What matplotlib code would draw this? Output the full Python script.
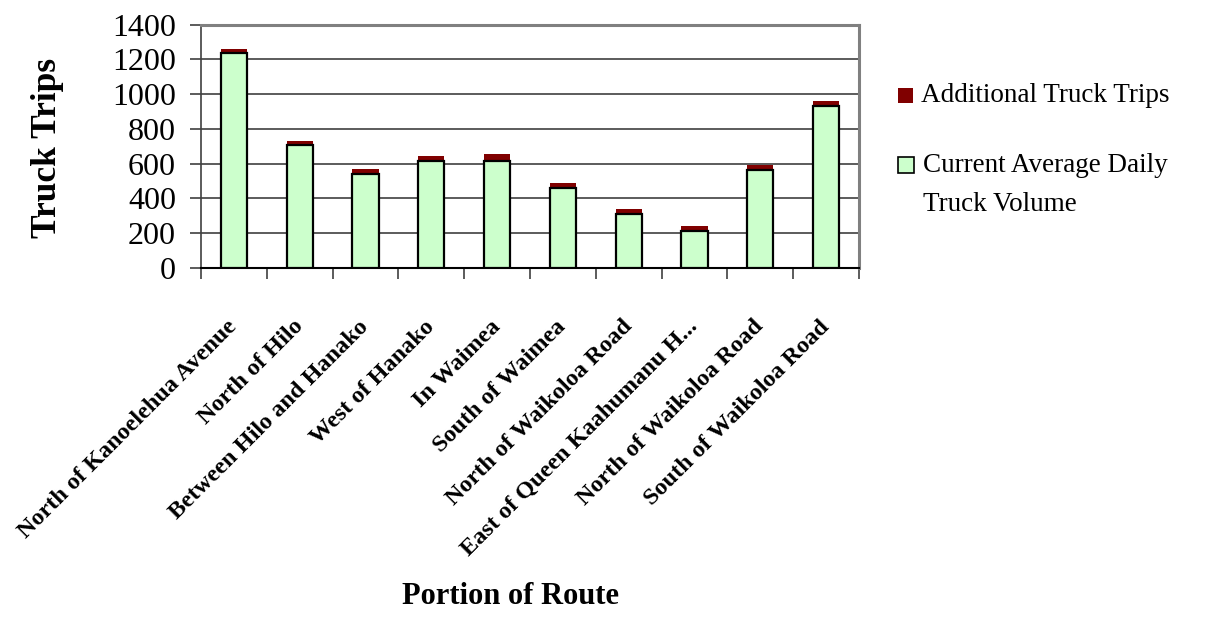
import matplotlib
matplotlib.use("Agg")
import matplotlib.pyplot as plt
from matplotlib.patches import Rectangle
import numpy as np

plt.rcParams['font.family'] = ['Liberation Serif', 'DejaVu Serif']

segments = [
    "North of Kanoelehua Avenue",
    "North of Hilo",
    "Between Hilo and Hanako",
    "West of Hanako",
    "In Waimea",
    "South of Waimea",
    "North of Waikoloa Road",
    "East of Queen Kaahumanu H...",
    "North of Waikoloa Road",
    "South of Waikoloa Road",
]
current_volume = [1235, 705, 542, 615, 615, 461, 312, 211, 565, 931]
additional_trips = [24, 25, 27, 28, 40, 27, 27, 30, 27, 28]
y_ticks = [0, 200, 400, 600, 800, 1000, 1200, 1400]

green = "#CCFFCC"
maroon = "#800000"

W, H = 1206, 624
fig = plt.figure(figsize=(W / 100, H / 100), dpi=100)
ax = fig.add_axes([201 / W, 1 - 268 / H, (859 - 201) / W, (268 - 24.5) / H])

x = np.arange(len(segments))
ax.bar(x, current_volume, width=0.40, color=green, edgecolor="black",
       linewidth=1.6, zorder=3)
ax.bar(x, additional_trips, width=0.40, bottom=current_volume, color=maroon,
       edgecolor="none", linewidth=0, zorder=2)

ax.set_xlim(-0.5, len(segments) - 0.5)
ax.set_ylim(0, 1400)
ax.set_yticks(y_ticks)
ax.set_yticklabels([str(v) for v in y_ticks], fontsize=23)
ax.yaxis.grid(True, color="#404040", linewidth=1.2, zorder=0)
ax.set_axisbelow(True)

# category boundaries carry the ticks, labels sit at the centres
ax.set_xticks(x)
ax.set_xticklabels(segments, rotation=45, ha="right", va="center",
                   rotation_mode="anchor", fontsize=17.5, fontweight="bold")
ax.set_xticks(np.arange(-0.5, len(segments), 1.0), minor=True)
ax.tick_params(axis="x", which="major", length=0, pad=40)
ax.tick_params(axis="x", which="minor", length=8, width=1.2, color="#404040",
               direction="out")
ax.tick_params(axis="y", length=8, width=1.2, color="#404040", pad=10)

for side in ("top", "right"):
    ax.spines[side].set_color("#808080")
    ax.spines[side].set_linewidth(2.2)
ax.spines["left"].set_color("#404040")
ax.spines["left"].set_linewidth(1.2)
ax.spines["bottom"].set_color("black")
ax.spines["bottom"].set_linewidth(1.5)

fig.text(47 / W, 1 - 148 / H, "Truck Trips", rotation=90, ha="center",
         va="center", fontsize=25.5, fontweight="bold")
fig.text(511 / W, 1 - 596 / H, "Portion of Route", ha="center",
         va="center", fontsize=22, fontweight="bold")

# legend
fig.patches.append(Rectangle((898 / W, 1 - 103 / H), 15 / W, 15 / H,
                             transform=fig.transFigure, facecolor=maroon,
                             edgecolor="none"))
fig.text(921 / W, 1 - 96 / H, "Additional Truck Trips", ha="left",
         va="center", fontsize=19.5)
fig.patches.append(Rectangle((898 / W, 1 - 173 / H), 16 / W, 16 / H,
                             transform=fig.transFigure, facecolor=green,
                             edgecolor="black", linewidth=1.2))
fig.text(923 / W, 1 - 166 / H, "Current Average Daily", ha="left",
         va="center", fontsize=19.5)
fig.text(923 / W, 1 - 205 / H, "Truck Volume", ha="left",
         va="center", fontsize=19.5)

fig.savefig("out.png", dpi=100)
